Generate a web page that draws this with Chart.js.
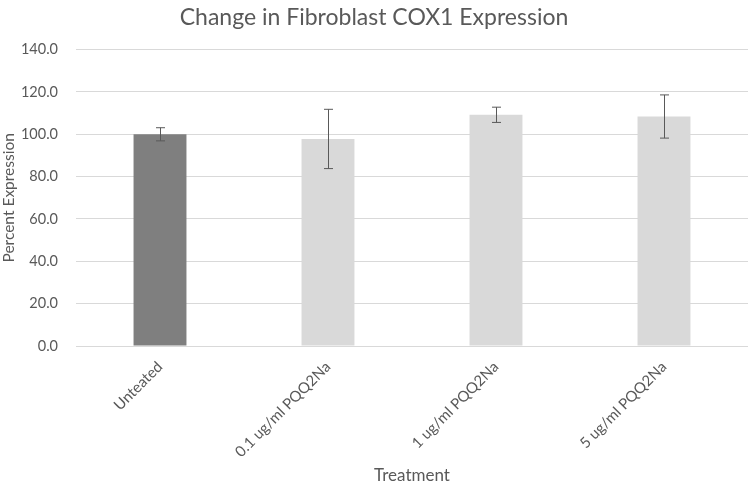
<!DOCTYPE html>
<html>
<head>
<meta charset="utf-8">
<script src="https://cdn.jsdelivr.net/npm/chart.js@4"></script>
<style>
html,body{margin:0;padding:0;background:#fff;}
#wrap{width:750px;height:486px;}
</style>
</head>
<body>
<div id="wrap"><canvas id="c" width="750" height="486"></canvas></div>
<script>
const categories = ["Unteated", "0.1 ug/ml PQQ2Na", "1 ug/ml PQQ2Na", "5 ug/ml PQQ2Na"];
const values = [100.0, 97.8, 109.2, 108.4];
const errors = [3.1, 14.0, 3.6, 10.2];
const barColors = ["#7f7f7f", "#d9d9d9", "#d9d9d9", "#d9d9d9"];
const yTicks = [0, 20, 40, 60, 80, 100, 120, 140];

const FONT = "Lato, 'Open Sans', sans-serif";
const TEXT = "#595959";

const errorBars = {
  id: 'errorBars',
  afterDatasetsDraw(chart) {
    const ctx = chart.ctx;
    const meta = chart.getDatasetMeta(0);
    const y = chart.scales.y;
    ctx.save();
    ctx.strokeStyle = "#595959";
    ctx.lineWidth = 1;
    meta.data.forEach((bar, i) => {
      const x = Math.round(bar.x) + 0.5;
      const top = y.getPixelForValue(values[i] + errors[i]);
      const bot = y.getPixelForValue(values[i] - errors[i]);
      ctx.beginPath();
      ctx.moveTo(x, top); ctx.lineTo(x, bot);
      ctx.moveTo(x - 4.5, top); ctx.lineTo(x + 4.5, top);
      ctx.moveTo(x - 4.5, bot); ctx.lineTo(x + 4.5, bot);
      ctx.stroke();
    });
    ctx.restore();
  }
};

new Chart(document.getElementById('c'), {
  type: 'bar',
  data: {
    labels: categories,
    datasets: [{
      data: values,
      backgroundColor: barColors,
      borderWidth: 0,
      barPercentage: 0.63,
      categoryPercentage: 0.5
    }]
  },
  options: {
    responsive: false,
    animation: false,
    layout: { padding: { left: 0, right: 2, top: 0, bottom: 0 } },
    plugins: {
      legend: { display: false },
      tooltip: { enabled: false },
      title: {
        display: true,
        text: "Change in Fibroblast COX1 Expression",
        color: TEXT,
        font: { family: FONT, size: 23, weight: 'normal' },
        padding: { top: 4, bottom: 18 }
      }
    },
    scales: {
      x: {
        afterFit(axis) { axis.height = 140; },
        grid: { display: false },
        border: { display: false },
        ticks: {
          color: TEXT,
          font: { family: FONT, size: 15 },
          minRotation: 45,
          maxRotation: 45,
          autoSkip: false,
          padding: 4
        },
        title: {
          display: true,
          text: "Treatment",
          color: TEXT,
          font: { family: FONT, size: 17 },
          padding: { top: 4, bottom: 0 }
        }
      },
      y: {
        min: 0,
        max: 140,
        afterBuildTicks(axis) { axis.ticks = yTicks.map(v => ({ value: v })); },
        afterFit(axis) { axis.width = 76; },
        grid: { color: "#d9d9d9", lineWidth: 1, drawTicks: false },
        border: { display: false },
        ticks: {
          color: TEXT,
          font: { family: FONT, size: 14.5 },
          padding: 18,
          callback: v => Number(v).toFixed(1)
        },
        title: {
          display: true,
          text: "Percent Expression",
          color: TEXT,
          font: { family: FONT, size: 15.5 },
          padding: { top: 0, bottom: 0 }
        }
      }
    }
  },
  plugins: [errorBars]
});
</script>
</body>
</html>
